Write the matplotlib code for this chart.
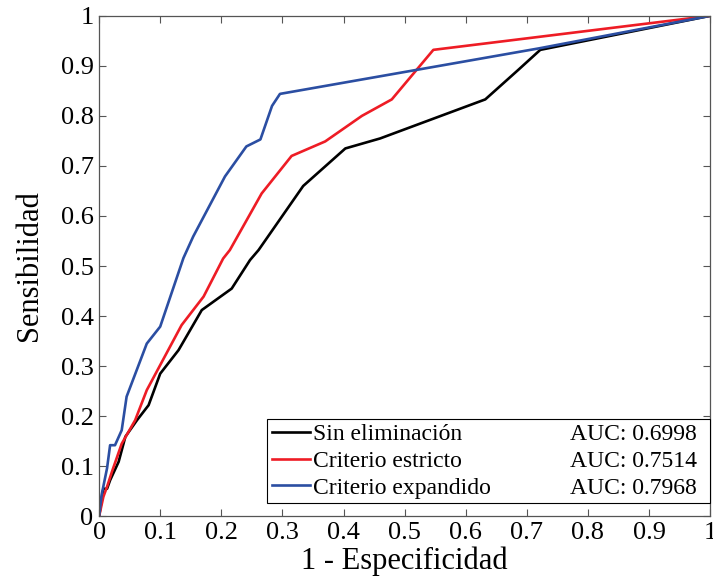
import numpy as np
import matplotlib
matplotlib.use("Agg")
import matplotlib.pyplot as plt

plt.rcParams['font.family'] = ['Liberation Serif', 'DejaVu Serif']

# curvas ROC (1 - especificidad, sensibilidad)
fpr_sin = [0, 0.007, 0.013, 0.018, 0.032, 0.043, 0.062, 0.081, 0.10, 0.13, 0.168,
           0.217, 0.247, 0.261, 0.334, 0.403, 0.46, 0.482, 0.632, 0.686, 0.722, 1.0]
tpr_sin = [0, 0.055, 0.055, 0.072, 0.109, 0.159, 0.192, 0.222, 0.285, 0.332, 0.412,
           0.455, 0.512, 0.532, 0.66, 0.735, 0.755, 0.765, 0.833, 0.892, 0.932, 1.0]

fpr_est = [0, 0.007, 0.013, 0.021, 0.037, 0.059, 0.078, 0.135, 0.171, 0.203, 0.214,
           0.266, 0.315, 0.37, 0.43, 0.479, 0.547, 1.0]
tpr_est = [0, 0.039, 0.059, 0.089, 0.145, 0.192, 0.252, 0.382, 0.439, 0.515, 0.532,
           0.645, 0.72, 0.749, 0.80, 0.833, 0.932, 1.0]

fpr_exp = [0, 0.004, 0.013, 0.018, 0.026, 0.037, 0.045, 0.078, 0.10, 0.138, 0.154,
           0.206, 0.241, 0.264, 0.283, 0.296, 0.72, 1.0]
tpr_exp = [0, 0.042, 0.096, 0.142, 0.142, 0.172, 0.239, 0.345, 0.379, 0.516, 0.559,
           0.679, 0.739, 0.753, 0.82, 0.844, 0.935, 1.0]

labels = ["Sin eliminación", "Criterio estricto", "Criterio expandido"]
aucs = ["AUC: 0.6998", "AUC: 0.7514", "AUC: 0.7968"]
colors = ["black", "#ee1c25", "#2b4ea2"]
ticks = [0, 0.1, 0.2, 0.3, 0.4, 0.5, 0.6, 0.7, 0.8, 0.9, 1]
tick_labels = ["0", "0.1", "0.2", "0.3", "0.4", "0.5", "0.6", "0.7", "0.8", "0.9", "1"]

fig = plt.figure(figsize=(7.13, 5.86), dpi=100)
ax = fig.add_axes([0.139, 0.119, 0.857, 0.854])

curves = [(fpr_sin, tpr_sin), (fpr_est, tpr_est), (fpr_exp, tpr_exp)]
for (x, y), lab, c in zip(curves, labels, colors):
    ax.plot(x, y, color=c, lw=1.9, label=lab)

ax.set_xlim(0, 1)
ax.set_ylim(0, 1)
ax.set_xticks(ticks)
ax.set_xticklabels(tick_labels)
ax.set_yticks(ticks)
ax.set_yticklabels(tick_labels)
ax.tick_params(direction="in", top=True, right=True, length=5, width=0.8,
               color="#555555", labelsize=19, pad=4)
for s in ax.spines.values():
    s.set_color("#555555")
    s.set_linewidth(0.9)

ax.set_xlabel("1 - Especificidad", fontsize=22, labelpad=2)
ax.set_ylabel("Sensibilidad", fontsize=22, labelpad=12)

leg = ax.legend(loc="lower left", bbox_to_anchor=(0.275, 0.026, 0.725, 0.18),
                mode="expand", fontsize=17, handlelength=1.6, handletextpad=0.15,
                labelspacing=0.22, borderpad=0.2, borderaxespad=0,
                fancybox=False, edgecolor="black", framealpha=1)
leg.get_frame().set_linewidth(0.8)

# columna de AUC alineada con cada fila de la leyenda
fig.canvas.draw()
frame_bb = leg.get_frame().get_window_extent()
for t, auc in zip(leg.get_texts(), aucs):
    bb = t.get_window_extent()
    yc = (bb.y0 + bb.y1) / 2
    ax.text(frame_bb.x1 - 13, yc, auc, transform=None, fontsize=17,
            ha="right", va="center", zorder=10)

fig.savefig("out.png", dpi=100)
